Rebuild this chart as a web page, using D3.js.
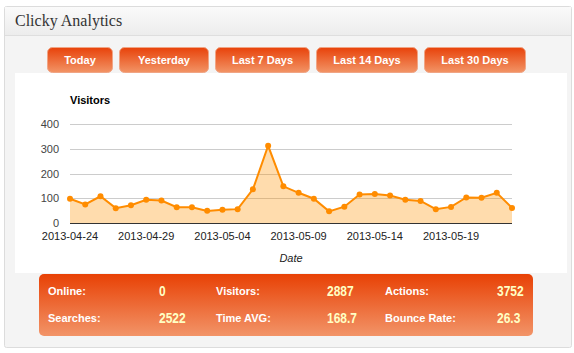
<!DOCTYPE html>
<html>
<head>
<meta charset="utf-8">
<script src="https://cdn.jsdelivr.net/npm/d3@7"></script>
<style>
  html, body { margin: 0; padding: 0; background: #fff; }
  svg { display: block; }
</style>
</head>
<body>
<div id="chart"></div>
<script>
const width = 574;
const height = 353;

// data
const dates = [
  "2013-04-24", "2013-04-25", "2013-04-26", "2013-04-27", "2013-04-28",
  "2013-04-29", "2013-04-30", "2013-05-01", "2013-05-02", "2013-05-03",
  "2013-05-04", "2013-05-05", "2013-05-06", "2013-05-07", "2013-05-08",
  "2013-05-09", "2013-05-10", "2013-05-11", "2013-05-12", "2013-05-13",
  "2013-05-14", "2013-05-15", "2013-05-16", "2013-05-17", "2013-05-18",
  "2013-05-19", "2013-05-20", "2013-05-21", "2013-05-22", "2013-05-23"
];
const visitors = [
  98, 75, 108, 60, 72, 94, 91, 64, 64, 49,
  54, 56, 136, 312, 148, 122, 98, 47, 66, 115,
  117, 111, 94, 89, 56, 65, 103, 102, 122, 61
];
const xTickLabels = ["2013-04-24", "2013-04-29", "2013-05-04", "2013-05-09", "2013-05-14", "2013-05-19"];
const yTicks = [0, 100, 200, 300, 400];
const buttons = ["Today", "Yesterday", "Last 7 Days", "Last 14 Days", "Last 30 Days"];
const statLabels = ["Online:", "Visitors:", "Actions:", "Searches:", "Time AVG:", "Bounce Rate:"];
const statValues = ["0", "2887", "3752", "2522", "168.7", "26.3"];

const svg = d3.select("#chart")
  .append("svg")
  .attr("width", width)
  .attr("height", height);

const defs = svg.append("defs");

const hdrGrad = defs.append("linearGradient").attr("id", "hdr").attr("x1", 0).attr("x2", 0).attr("y1", 0).attr("y2", 1);
hdrGrad.append("stop").attr("offset", "0%").attr("stop-color", "#fafafa");
hdrGrad.append("stop").attr("offset", "100%").attr("stop-color", "#ececec");

const btnGrad = defs.append("linearGradient").attr("id", "btn").attr("x1", 0).attr("x2", 0).attr("y1", 0).attr("y2", 1);
btnGrad.append("stop").attr("offset", "0%").attr("stop-color", "#e8420a");
btnGrad.append("stop").attr("offset", "100%").attr("stop-color", "#f29466");

const statGrad = defs.append("linearGradient").attr("id", "stat").attr("x1", 0).attr("x2", 0).attr("y1", 0).attr("y2", 1);
statGrad.append("stop").attr("offset", "0%").attr("stop-color", "#e84105");
statGrad.append("stop").attr("offset", "100%").attr("stop-color", "#f29468");

// outer panel
svg.append("rect")
  .attr("x", 4.5).attr("y", 6.5)
  .attr("width", 567).attr("height", 341)
  .attr("rx", 2)
  .attr("fill", "#f4f4f4")
  .attr("stroke", "#dcdcdc");

svg.append("rect")
  .attr("x", 5).attr("y", 7)
  .attr("width", 566).attr("height", 28)
  .attr("fill", "url(#hdr)");

svg.append("line")
  .attr("x1", 5).attr("x2", 571)
  .attr("y1", 35.5).attr("y2", 35.5)
  .attr("stroke", "#dedede");

svg.append("text")
  .attr("x", 15).attr("y", 26)
  .attr("font-family", "Liberation Serif, serif")
  .attr("font-size", "16px")
  .attr("fill", "#333")
  .text("Clicky Analytics");

// buttons
const btnX = [47, 119, 215, 316, 424];
const btnW = [66, 90, 95, 102, 102];
const btn = svg.selectAll("g.btn")
  .data(buttons)
  .join("g")
  .attr("class", "btn")
  .attr("transform", (d, i) => `translate(${btnX[i]},47)`);

btn.append("rect")
  .attr("x", 0.5).attr("y", 0.5)
  .attr("width", (d, i) => btnW[i] - 1).attr("height", 25)
  .attr("rx", 5)
  .attr("fill", "url(#btn)")
  .attr("stroke", "#f0a585");

btn.append("text")
  .attr("x", (d, i) => btnW[i] / 2).attr("y", 17)
  .attr("text-anchor", "middle")
  .attr("font-family", "Liberation Sans, Arial, sans-serif")
  .attr("font-size", "11px")
  .attr("font-weight", "bold")
  .attr("fill", "#fff")
  .text(d => d);

// chart area
svg.append("rect")
  .attr("x", 15).attr("y", 73)
  .attr("width", 552).attr("height", 200)
  .attr("fill", "#fff");

const x = d3.scalePoint().domain(dates).range([70, 512]);
const y = d3.scaleLinear().domain([0, 400]).range([223, 124]);

const chart = svg.append("g");

chart.append("g")
  .selectAll("line")
  .data(yTicks.filter(d => d > 0))
  .join("line")
  .attr("x1", 70).attr("x2", 512)
  .attr("y1", d => Math.round(y(d)) + 0.5).attr("y2", d => Math.round(y(d)) + 0.5)
  .attr("stroke", "#cccccc");

chart.append("g")
  .selectAll("text")
  .data(yTicks)
  .join("text")
  .attr("x", 59).attr("y", d => y(d) + 4)
  .attr("text-anchor", "end")
  .attr("font-family", "Liberation Sans, Arial, sans-serif")
  .attr("font-size", "11px")
  .attr("fill", "#444")
  .text(d => d);

const area = d3.area()
  .x((d, i) => x(dates[i]))
  .y0(y(0))
  .y1(d => y(d));

const line = d3.line()
  .x((d, i) => x(dates[i]))
  .y(d => y(d));

chart.append("path")
  .attr("d", area(visitors))
  .attr("fill", "#ff9100")
  .attr("fill-opacity", 0.32);

chart.append("line")
  .attr("x1", 70).attr("x2", 512)
  .attr("y1", Math.round(y(0)) + 0.5).attr("y2", Math.round(y(0)) + 0.5)
  .attr("stroke", "#333");

chart.append("path")
  .attr("d", line(visitors))
  .attr("fill", "none")
  .attr("stroke", "#ff8c00")
  .attr("stroke-width", 2);

chart.append("g")
  .selectAll("circle")
  .data(visitors)
  .join("circle")
  .attr("cx", (d, i) => x(dates[i]))
  .attr("cy", d => y(d))
  .attr("r", 3)
  .attr("fill", "#ff8c00");

chart.append("g")
  .selectAll("text")
  .data(xTickLabels)
  .join("text")
  .attr("x", d => x(d)).attr("y", 240)
  .attr("text-anchor", "middle")
  .attr("font-family", "Liberation Sans, Arial, sans-serif")
  .attr("font-size", "11px")
  .attr("fill", "#222")
  .text(d => d);

chart.append("text")
  .attr("x", 70).attr("y", 104)
  .attr("font-family", "Liberation Sans, Arial, sans-serif")
  .attr("font-size", "11px")
  .attr("font-weight", "bold")
  .attr("fill", "#000")
  .text("Visitors");

chart.append("text")
  .attr("x", 291).attr("y", 262)
  .attr("text-anchor", "middle")
  .attr("font-family", "Liberation Sans, Arial, sans-serif")
  .attr("font-size", "11px")
  .attr("font-style", "italic")
  .attr("fill", "#222")
  .text("Date");

// stats panel
svg.append("rect")
  .attr("x", 39).attr("y", 274)
  .attr("width", 494).attr("height", 62)
  .attr("rx", 5)
  .attr("fill", "url(#stat)");

const labelX = [48, 216, 385];
const valueX = [159, 327, 497];
const rowY = [295, 322];

svg.append("g")
  .selectAll("text")
  .data(statLabels)
  .join("text")
  .attr("x", (d, i) => labelX[i % 3])
  .attr("y", (d, i) => rowY[Math.floor(i / 3)])
  .attr("font-family", "Liberation Sans, Arial, sans-serif")
  .attr("font-size", "11px")
  .attr("font-weight", "bold")
  .attr("fill", "#fff")
  .text(d => d);

// values are drawn in a condensed face, so squeeze them horizontally
svg.append("g")
  .selectAll("text")
  .data(statValues)
  .join("text")
  .attr("transform", (d, i) => `translate(${valueX[i % 3]},${rowY[Math.floor(i / 3)] + 1}) scale(0.8,1)`)
  .attr("font-family", "Liberation Sans, Arial, sans-serif")
  .attr("font-size", "15px")
  .attr("font-weight", "bold")
  .attr("fill", "#ffffc4")
  .text(d => d);
</script>
</body>
</html>
